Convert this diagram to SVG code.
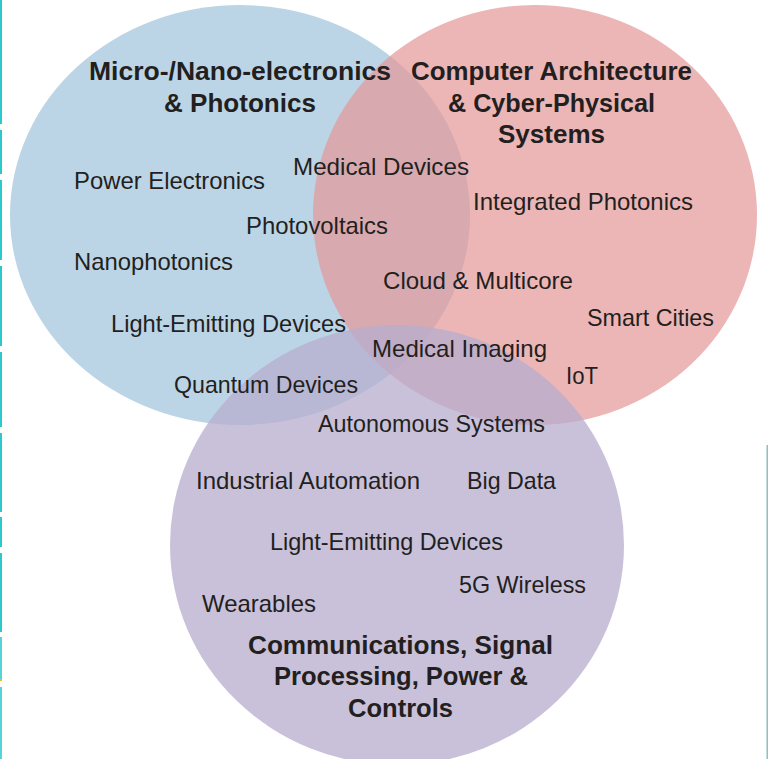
<svg xmlns="http://www.w3.org/2000/svg" width="768" height="759" viewBox="0 0 768 759">
<style>
.t{font-family:"Liberation Sans Narrow","Liberation Sans",Arial,sans-serif;font-size:24px;fill:#231f20}
.b{font-family:"Liberation Sans",Arial,sans-serif;font-size:25px;font-weight:bold;fill:#231f20}
.edge{fill:#2bc8cc}
</style>
<rect width="768" height="759" fill="#ffffff"/>
<g id="edges">
<rect class="edge" x="0" y="0" width="2" height="124"/>
<rect class="edge" x="0" y="130" width="2" height="44"/>
<rect class="edge" x="0" y="180" width="2" height="80"/>
<rect class="edge" x="0" y="266" width="2" height="80"/>
<rect class="edge" x="0" y="352" width="2" height="75"/>
<rect class="edge" x="0" y="433" width="2" height="79"/>
<rect class="edge" x="0" y="517" width="2" height="30"/>
<rect class="edge" x="0" y="553" width="2" height="79"/>
<rect class="edge" x="0" y="637" width="2" height="42" opacity="0.8"/>
<rect x="0" y="679" width="2" height="2" fill="#e8c020"/>
<rect class="edge" x="0" y="687" width="2" height="72" opacity="0.8"/>
<rect x="766.5" y="445" width="1.5" height="314" fill="#86c2c6"/>
</g>
<g id="circle-micro-nano">
<ellipse cx="240" cy="215" rx="230" ry="210" fill="#bcd5e6"/>
</g>
<g id="circle-computer-architecture">
<ellipse cx="535" cy="215" rx="222" ry="210" fill="#e49797" fill-opacity="0.7"/>
</g>
<g id="circle-communications">
<ellipse cx="397" cy="545" rx="227" ry="220" fill="#b7acce" fill-opacity="0.75"/>
</g>
<g id="titles">
<text class="b" x="89" y="80" textLength="302" lengthAdjust="spacingAndGlyphs">Micro-/Nano-electronics</text>
<text class="b" x="164" y="112" textLength="152" lengthAdjust="spacingAndGlyphs">&amp; Photonics</text>
<text class="b" x="411" y="80" textLength="281" lengthAdjust="spacingAndGlyphs">Computer Architecture</text>
<text class="b" x="448" y="112" textLength="207" lengthAdjust="spacingAndGlyphs">&amp; Cyber-Physical</text>
<text class="b" x="498" y="143" textLength="107" lengthAdjust="spacingAndGlyphs">Systems</text>
<text class="b" x="248" y="654" textLength="305" lengthAdjust="spacingAndGlyphs">Communications, Signal</text>
<text class="b" x="274" y="685" textLength="254" lengthAdjust="spacingAndGlyphs">Processing, Power &amp;</text>
<text class="b" x="348" y="717" textLength="105" lengthAdjust="spacingAndGlyphs">Controls</text>
</g>
<g id="topics">
<text class="t" x="74" y="189" textLength="191" lengthAdjust="spacingAndGlyphs">Power Electronics</text>
<text class="t" x="74" y="270" textLength="159" lengthAdjust="spacingAndGlyphs">Nanophotonics</text>
<text class="t" x="111" y="332" textLength="235" lengthAdjust="spacingAndGlyphs">Light-Emitting Devices</text>
<text class="t" x="174" y="393" textLength="184" lengthAdjust="spacingAndGlyphs">Quantum Devices</text>
<text class="t" x="246" y="234" textLength="142" lengthAdjust="spacingAndGlyphs">Photovoltaics</text>
<text class="t" x="293" y="175" textLength="176" lengthAdjust="spacingAndGlyphs">Medical Devices</text>
<text class="t" x="473" y="210" textLength="220" lengthAdjust="spacingAndGlyphs">Integrated Photonics</text>
<text class="t" x="383" y="289" textLength="190" lengthAdjust="spacingAndGlyphs">Cloud &amp; Multicore</text>
<text class="t" x="587" y="326" textLength="127" lengthAdjust="spacingAndGlyphs">Smart Cities</text>
<text class="t" x="372" y="357" textLength="175" lengthAdjust="spacingAndGlyphs">Medical Imaging</text>
<text class="t" x="566" y="384" textLength="32" lengthAdjust="spacingAndGlyphs">IoT</text>
<text class="t" x="318" y="432" textLength="227" lengthAdjust="spacingAndGlyphs">Autonomous Systems</text>
<text class="t" x="196" y="489" textLength="224" lengthAdjust="spacingAndGlyphs">Industrial Automation</text>
<text class="t" x="467" y="489" textLength="89" lengthAdjust="spacingAndGlyphs">Big Data</text>
<text class="t" x="270" y="550" textLength="233" lengthAdjust="spacingAndGlyphs">Light-Emitting Devices</text>
<text class="t" x="459" y="593" textLength="127" lengthAdjust="spacingAndGlyphs">5G Wireless</text>
<text class="t" x="202" y="612" textLength="114" lengthAdjust="spacingAndGlyphs">Wearables</text>
</g>
</svg>
